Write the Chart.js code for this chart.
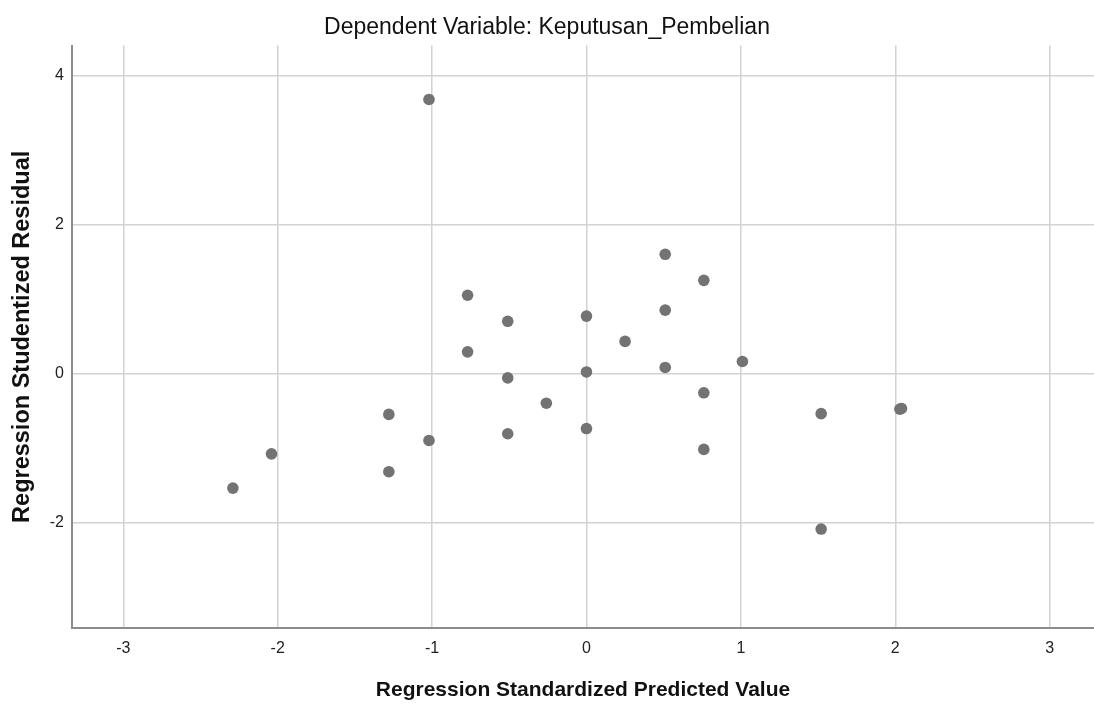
<!DOCTYPE html>
<html>
<head>
<meta charset="utf-8">
<script src="https://cdn.jsdelivr.net/npm/chart.js@4/dist/chart.umd.min.js"></script>
<style>
    html, body { margin: 0; padding: 0; background: #fff; overflow: hidden; }
    #wrap { width: 1094px; height: 708px; }
    canvas { display: block; }
</style>
</head>
<body>
<div id="wrap"><canvas id="scatter" width="1094" height="708"></canvas></div>
<script>
// ------------------------------------------------------------------ data
const X_VALUES = [-2.29, -2.04, -1.28, -1.28, -1.02, -1.02, -0.77, -0.77, -0.51, -0.51,
                  -0.51, -0.26, 0.00, 0.00, 0.00, 0.25, 0.51, 0.51, 0.51, 0.76,
                  0.76, 0.76, 1.01, 1.52, 1.52, 2.03, 2.04];
const Y_VALUES = [-1.54, -1.08, -0.55, -1.32, 3.68, -0.90, 1.05, 0.29, 0.70, -0.06,
                  -0.81, -0.40, 0.77, 0.02, -0.74, 0.43, 1.60, 0.85, 0.08, 1.25,
                  -0.26, -1.02, 0.16, -0.54, -2.09, -0.48, -0.47];
const X_TICKS = [-3, -2, -1, 0, 1, 2, 3];
const Y_TICKS = [-2, 0, 2, 4];

const TITLE = 'Dependent Variable: Keputusan_Pembelian';
const X_TITLE = 'Regression Standardized Predicted Value';
const Y_TITLE = 'Regression Studentized Residual';

// ------------------------------------------------------------------ styles
const FONT = "'Liberation Sans', Arial, sans-serif";
const GRID = '#d2d2d2';
const AXIS = '#8c8c8c';
const DOT = '#737373';

const points = X_VALUES.map((x, i) => ({ x, y: Y_VALUES[i] }));

new Chart(document.getElementById('scatter').getContext('2d'), {
    type: 'scatter',
    data: {
        datasets: [{
            data: points,
            pointRadius: 5.8,
            pointHoverRadius: 5.8,
            pointBackgroundColor: DOT,
            pointBorderWidth: 0
        }]
    },
    options: {
        responsive: false,
        devicePixelRatio: 1,
        animation: false,
        layout: { autoPadding: false, padding: { left: 0, right: 0, top: 0, bottom: 5 } },
        plugins: {
            legend: { display: false },
            tooltip: { enabled: false },
            title: {
                display: true,
                text: TITLE,
                color: '#111',
                font: { family: FONT, size: 23, weight: 'normal' },
                padding: { top: 14, bottom: 4 }
            }
        },
        scales: {
            x: {
                type: 'linear',
                min: -3.332,
                max: 3.287,
                afterBuildTicks: s => { s.ticks = X_TICKS.map(v => ({ value: v })); },
                afterFit: s => { s.height = 75; s.paddingLeft = 0; s.paddingRight = 0; },
                grid: { color: GRID, lineWidth: 1.5, drawTicks: false },
                border: { color: AXIS, width: 2 },
                ticks: { color: '#222', padding: 11, font: { family: FONT, size: 16 } },
                title: {
                    display: true,
                    text: X_TITLE,
                    color: '#111',
                    font: { family: FONT, size: 21, weight: 'bold' },
                    padding: { top: 0, bottom: 0 }
                }
            },
            y: {
                type: 'linear',
                min: -3.419,
                max: 4.403,
                afterBuildTicks: s => { s.ticks = Y_TICKS.map(v => ({ value: v })); },
                afterFit: s => { s.width = 72; },
                grid: { color: GRID, lineWidth: 1.5, drawTicks: false },
                border: { color: AXIS, width: 2 },
                ticks: { color: '#222', padding: 8, font: { family: FONT, size: 16 } },
                title: {
                    display: true,
                    text: Y_TITLE,
                    color: '#111',
                    font: { family: FONT, size: 23.5, weight: 'bold' },
                    padding: { top: 8, bottom: 0 }
                }
            }
        }
    }
});
</script>
</body>
</html>
